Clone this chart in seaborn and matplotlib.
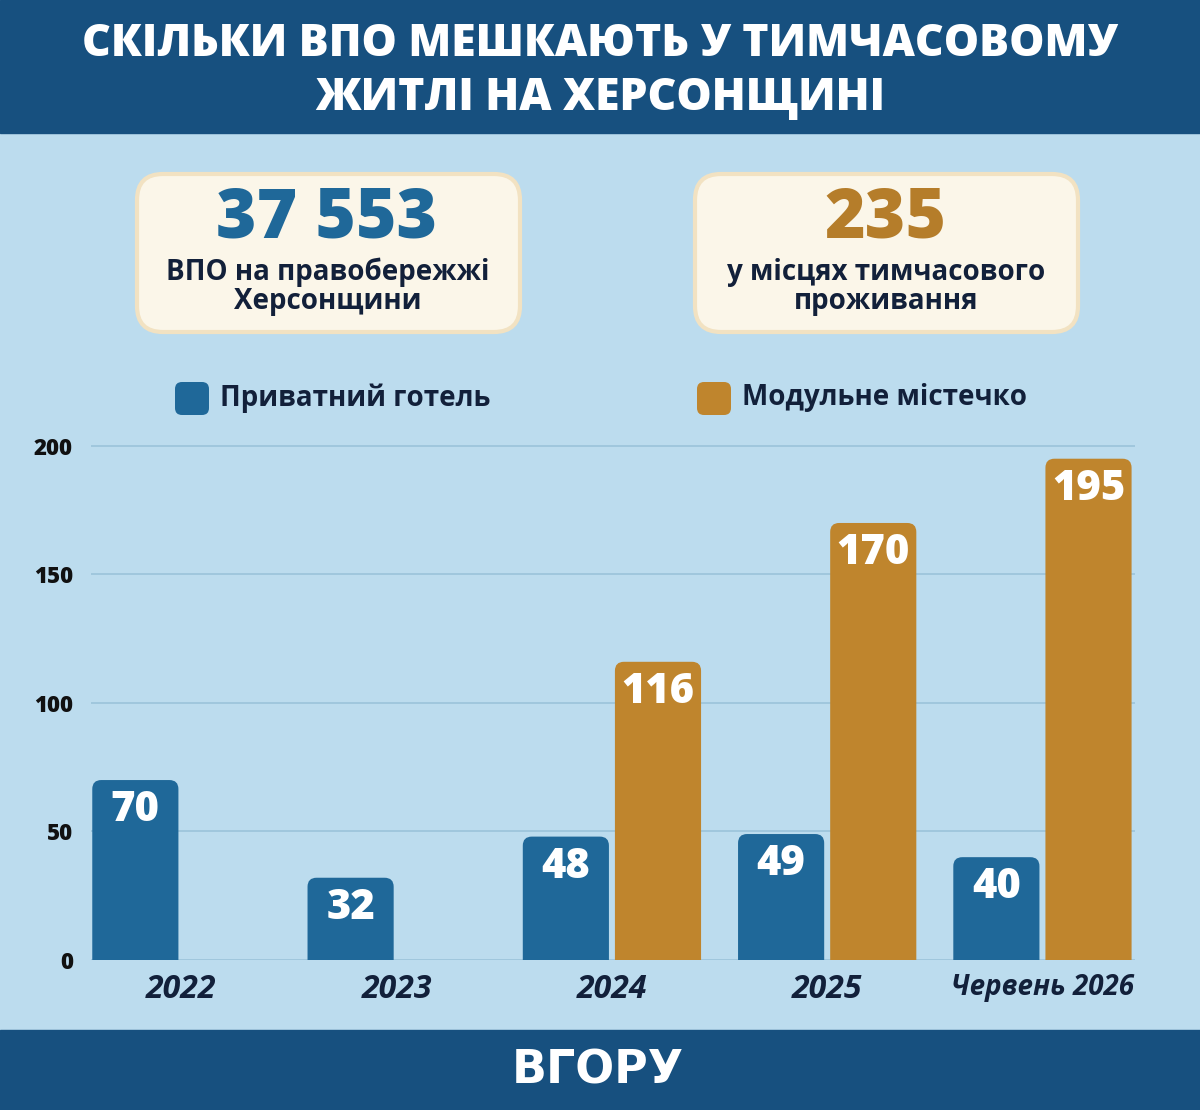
import numpy as np
import pandas as pd
import matplotlib
matplotlib.use("Agg")
import matplotlib.pyplot as plt
from matplotlib.patches import FancyBboxPatch, Rectangle
import seaborn as sns

# --- data ---
periods = ["2022", "2023", "2024", "2025", "Червень 2026"]
hotel = [70, 32, 48, 49, 40]
modular = [np.nan, np.nan, 116, 170, 195]
series_names = ["Приватний готель", "Модульне містечко"]
yticks = [0, 50, 100, 150, 200]

title_lines = ["СКІЛЬКИ ВПО МЕШКАЮТЬ У ТИМЧАСОВОМУ", "ЖИТЛІ НА ХЕРСОНЩИНІ"]
stat_values = ["37 553", "235"]
stat_captions = ["ВПО на правобережжі\nХерсонщини", "у місцях тимчасового\nпроживання"]
brand = "ВГОРУ"

# --- colours ---
DARK = "#17507f"
BG = "#bcdcee"
BLUE = "#1f6899"
ORANGE = "#bf852d"
NAVY = "#12203a"
CREAM = "#fbf6e9"
GRID = "#9ec5dc"

df = pd.DataFrame({
    "period": periods * 2,
    "series": [series_names[0]] * len(periods) + [series_names[1]] * len(periods),
    "value": hotel + modular,
})

sns.set_theme(style="white")
plt.rcParams["font.family"] = ["Open Sans", "DejaVu Sans"]

fig = plt.figure(figsize=(12, 11.1), dpi=100, facecolor=BG)

# background layer, pixel coordinates
bg = fig.add_axes([0, 0, 1, 1], zorder=0)
bg.set_xlim(0, 1200)
bg.set_ylim(1110, 0)
bg.axis("off")
bg.add_patch(Rectangle((0, 0), 1200, 133, color=DARK))
bg.add_patch(Rectangle((0, 1030), 1200, 80, color=DARK))

for i, line in enumerate(title_lines):
    bg.text(600, 44 + 55 * i, line, color="white", fontsize=32, fontweight="heavy",
            ha="center", va="center")

# stat boxes
box_x = [137, 695]
stat_colors = [BLUE, "#b57d2a"]
for bx, val, cap, col in zip(box_x, stat_values, stat_captions, stat_colors):
    bg.add_patch(FancyBboxPatch((bx, 174), 383, 158,
                                boxstyle="round,pad=0,rounding_size=26",
                                fc=CREAM, ec="#f2e2c2", lw=3))
    bg.text(bx + 190, 220, val, color=col, fontsize=50, fontweight="heavy",
            ha="center", va="center")
    bg.text(bx + 191, 287, cap, color=NAVY, fontsize=20, fontweight="bold",
            ha="center", va="center", linespacing=1.0)

# legend
leg_x = [175, 697]
for lx, name, col in zip(leg_x, series_names, [BLUE, ORANGE]):
    bg.add_patch(FancyBboxPatch((lx, 382), 34, 33,
                                boxstyle="round,pad=0,rounding_size=7", fc=col, ec="none"))
    bg.text(lx + 45, 398, name, color=NAVY, fontsize=20, fontweight="bold",
            ha="left", va="center")

bg.text(598, 1071, brand, color="white", fontsize=33, fontweight="heavy",
        ha="center", va="center", family=["DejaVu Sans"])

# --- chart ---
ax_w, ax_h = 1044, 527
ax = fig.add_axes([91 / 1200, 150 / 1110, ax_w / 1200, ax_h / 1110], zorder=1)
ax.patch.set_alpha(0)

sns.barplot(data=df, x="period", y="value", hue="series", order=periods,
            hue_order=series_names, palette=[BLUE, ORANGE], saturation=1,
            width=0.856, gap=0.065, legend=False, ax=ax)

xlim = (-0.42, 4.43)
ylim = (0, 205)
ax.set_xlim(*xlim)
ax.set_ylim(*ylim)
sx = ax_w / (xlim[1] - xlim[0])
sy = ax_h / (ylim[1] - ylim[0])
r = 9  # px corner radius

for p in list(ax.patches):
    x, w, h = p.get_x(), p.get_width(), p.get_height()
    fc = p.get_facecolor()
    p.remove()
    if not np.isfinite(h) or h == 0:
        continue
    rb = FancyBboxPatch((x, -10), w, h + 10,
                        boxstyle=f"round,pad=0,rounding_size={r / sx}",
                        mutation_aspect=sx / sy, fc=fc, ec="none", zorder=2)
    ax.add_patch(rb)
    ax.annotate(f"{h:.0f}", (x + w / 2, h), xytext=(0, -21.6), textcoords="offset points",
                ha="center", va="center", color="white", fontsize=30,
                fontweight="heavy", zorder=3)

ax.set_axisbelow(True)
ax.yaxis.grid(True, color=GRID, lw=1.3)
ax.xaxis.grid(False)
sns.despine(ax=ax, left=True, bottom=True)
ax.set_xlabel("")
ax.set_ylabel("")
ax.set_yticks(yticks)
ax.tick_params(axis="y", length=0, pad=13, labelsize=16, labelcolor="#111111")
ax.tick_params(axis="x", length=0, pad=9, labelsize=23, labelcolor=NAVY)
for lbl in ax.get_yticklabels():
    lbl.set_fontweight("heavy")
for lbl in ax.get_xticklabels():
    lbl.set_fontweight("bold")
    lbl.set_style("italic")
ax.get_xticklabels()[-1].set_fontsize(20)

fig.savefig("out.png", dpi=100, facecolor=BG)
